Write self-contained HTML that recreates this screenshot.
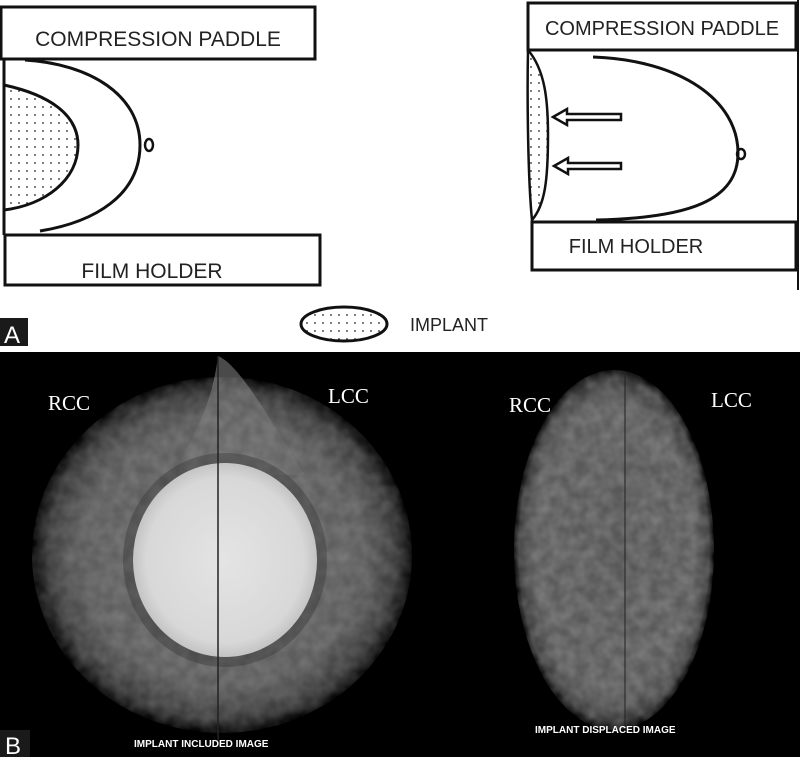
<!DOCTYPE html>
<html><head><meta charset="utf-8"><style>
html,body{margin:0;padding:0;background:#fff}
svg{display:block}
</style></head><body>
<svg width="800" height="757" viewBox="0 0 800 757" xmlns="http://www.w3.org/2000/svg">
<defs>
<pattern id="dots" width="8" height="8" patternUnits="userSpaceOnUse"><circle cx="3" cy="3" r="0.9" fill="#222"/></pattern>
<radialGradient id="disc" cx="0.5" cy="0.5" r="0.5">
<stop offset="0" stop-color="#6a6a6a"/><stop offset="0.75" stop-color="#5c5c5c"/><stop offset="0.92" stop-color="#383838"/><stop offset="1" stop-color="#000"/>
</radialGradient>
<radialGradient id="imp" cx="0.5" cy="0.5" r="0.5">
<stop offset="0" stop-color="#e4e4e4"/><stop offset="0.85" stop-color="#d8d8d8"/><stop offset="1" stop-color="#c4c4c4"/>
</radialGradient>
<radialGradient id="ell" cx="0.5" cy="0.5" r="0.5">
<stop offset="0" stop-color="#555"/><stop offset="0.8" stop-color="#5c5c5c"/><stop offset="0.95" stop-color="#3a3a3a"/><stop offset="1" stop-color="#000"/>
</radialGradient>
<filter id="tex" x="0" y="0" width="1" height="1"><feTurbulence type="fractalNoise" baseFrequency="0.08" numOctaves="2" seed="3"/><feColorMatrix values="0 0 0 0 1 0 0 0 0 1 0 0 0 0 1 0 0 0 0.5 -0.1"/></filter>
<clipPath id="c1"><ellipse cx="222" cy="555" rx="190" ry="178"/></clipPath>
<clipPath id="c2"><ellipse cx="614" cy="550" rx="100" ry="180"/></clipPath>
</defs>
<rect width="800" height="757" fill="#fff"/>
<g fill="none" stroke="#111" stroke-width="3">
<rect x="1" y="7" width="314" height="52"/>
<rect x="5" y="235" width="315" height="50"/>
<line x1="4" y1="60" x2="4" y2="235"/>
<path d="M25,60 C90,64 140,95 140,145 C140,195 95,222 40,231"/>
<path d="M4,85 C50,95 78,115 78,145 C78,180 45,205 4,210" fill="url(#dots)"/>
<ellipse cx="149" cy="145" rx="4" ry="6" stroke-width="2.5"/>
</g>
<text x="158" y="46" font-family="Liberation Sans,sans-serif" font-size="21" text-anchor="middle" fill="#222">COMPRESSION PADDLE</text>
<text x="152" y="278" font-family="Liberation Sans,sans-serif" font-size="21" text-anchor="middle" fill="#222">FILM HOLDER</text>
<g fill="none" stroke="#111" stroke-width="3">
<rect x="528" y="3" width="268" height="47"/>
<rect x="532" y="222" width="264" height="48"/>
<line x1="798" y1="0" x2="798" y2="290" stroke-width="2"/>
<path d="M593,57 C680,60 738,100 738,153 C738,200 690,218 596,220"/>
<path d="M528,50 C545,70 548,100 548,135 C548,180 545,205 532,220 C528,180 527,100 528,50 Z" fill="url(#dots)" stroke-width="2.5"/>
<ellipse cx="741" cy="154" rx="4" ry="5" stroke-width="2.5"/>
<path d="M553,117 L567,109 L567,114 L621,114 L621,120 L567,120 L567,125 Z" stroke-width="2.5"/>
<path d="M554,166 L568,158 L568,163 L621,163 L621,169 L568,169 L568,174 Z" stroke-width="2.5"/>
</g>
<text x="662" y="35" font-family="Liberation Sans,sans-serif" font-size="20" text-anchor="middle" fill="#222">COMPRESSION PADDLE</text>
<text x="636" y="253" font-family="Liberation Sans,sans-serif" font-size="20" text-anchor="middle" fill="#222">FILM HOLDER</text>
<ellipse cx="344" cy="324" rx="43" ry="17" fill="url(#dots)" stroke="#111" stroke-width="3"/>
<text x="410" y="331" font-family="Liberation Sans,sans-serif" font-size="18" fill="#222">IMPLANT</text>
<rect x="0" y="318" width="28" height="28" fill="#1a1a1a"/>
<text x="4" y="343" font-family="Liberation Sans,sans-serif" font-size="24" fill="#fff">A</text>
<rect x="0" y="352" width="800" height="405" fill="#000"/>
<ellipse cx="222" cy="555" rx="190" ry="178" fill="url(#disc)"/>
<path d="M218,356 C240,365 270,420 305,475 L220,475 L178,475 C185,440 210,420 218,356 Z" fill="#6a6a6a" opacity="0.7"/>
<g clip-path="url(#c1)"><rect x="30" y="375" width="385" height="360" filter="url(#tex)" opacity="0.45"/></g>
<ellipse cx="225" cy="560" rx="102" ry="107" fill="#2e2e2e" opacity="0.35"/>
<ellipse cx="225" cy="560" rx="92" ry="97" fill="url(#imp)"/>
<line x1="218" y1="356" x2="218" y2="740" stroke="#222" stroke-width="1.5"/>
<ellipse cx="614" cy="550" rx="100" ry="180" fill="url(#ell)"/>
<g clip-path="url(#c2)"><rect x="512" y="368" width="205" height="365" filter="url(#tex)" opacity="0.6"/></g>
<line x1="625" y1="372" x2="625" y2="730" stroke="#222" stroke-width="1"/>
<g font-family="Liberation Serif,serif" font-size="21" fill="#fff">
<text x="48" y="410">RCC</text><text x="328" y="403">LCC</text>
<text x="509" y="412">RCC</text><text x="711" y="407">LCC</text>
</g>
<g font-family="Liberation Sans,sans-serif" font-size="10" fill="#fff" font-weight="bold">
<text x="134" y="747">IMPLANT INCLUDED IMAGE</text>
<text x="535" y="733">IMPLANT DISPLACED IMAGE</text>
</g>
<rect x="0" y="730" width="30" height="27" fill="#1a1a1a"/>
<text x="5" y="754" font-family="Liberation Sans,sans-serif" font-size="24" fill="#fff">B</text>
</svg>
</body></html>
